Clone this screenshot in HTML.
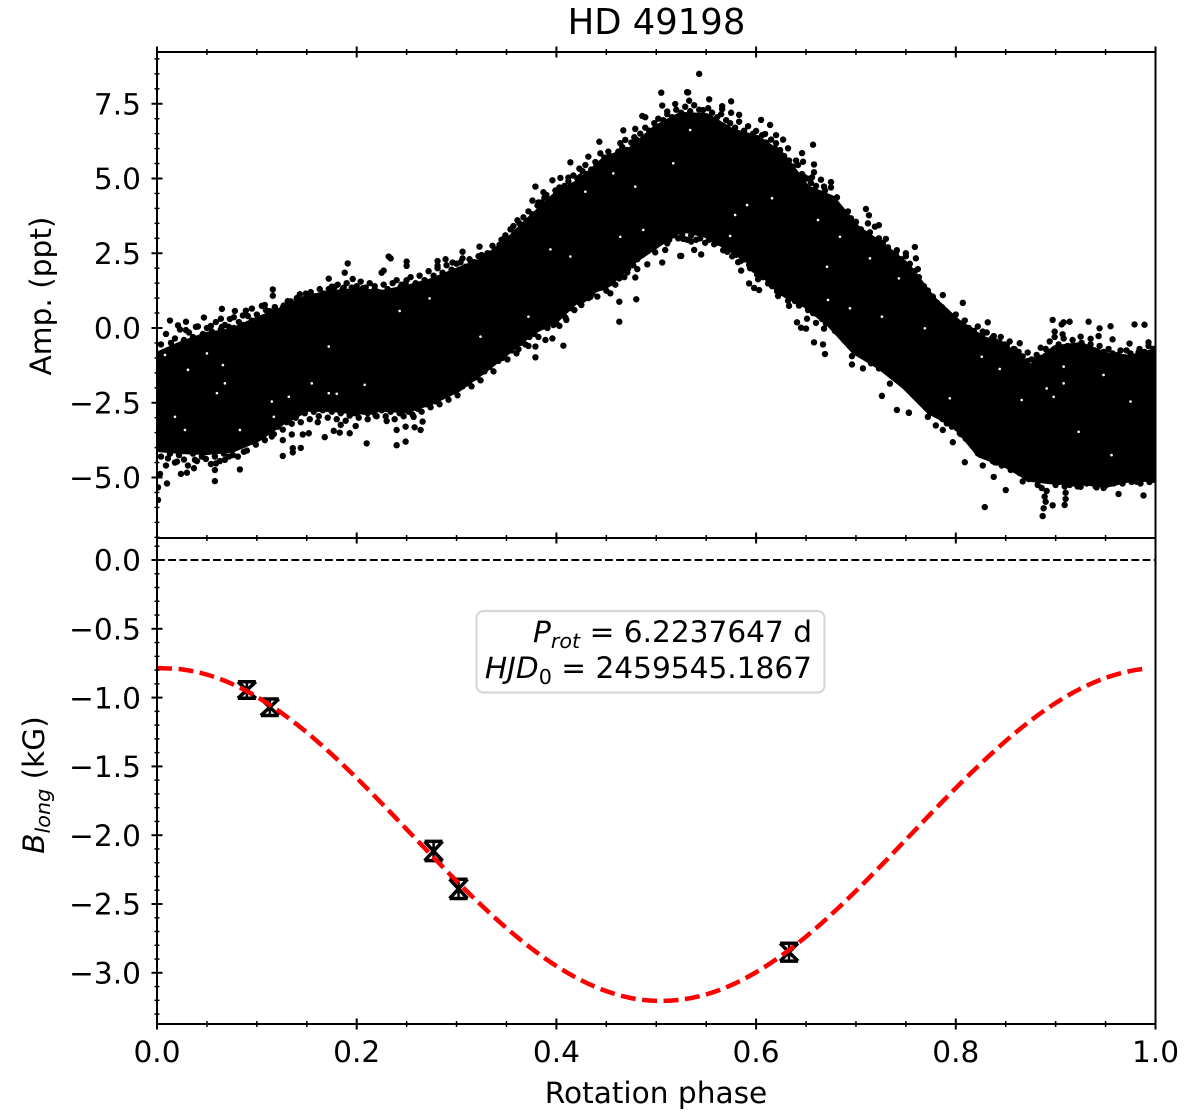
<!DOCTYPE html>
<html lang="en">
<head>
<meta charset="utf-8">
<title>HD 49198</title>
<style>
html,body{margin:0;padding:0;background:#fff}
svg{display:block}
text{font-family:"DejaVu Sans","Liberation Sans",sans-serif;fill:#000}
</style>
</head>
<body>
<svg id="chart" xmlns="http://www.w3.org/2000/svg" width="1200" height="1118" viewBox="0 0 1200 1118">
  <rect width="1200" height="1118" fill="#fff"/>
  <text x="656.5" y="34" font-size="35.4" text-anchor="middle">HD 49198</text>
  <g id="top-panel"></g>
  <g id="bottom-panel"></g>
  <g id="axes"></g>
  <g>
    <rect x="476.5" y="611" width="348" height="81.5" rx="7" ry="7" fill="#fff" stroke="#d8d8d8" stroke-width="2.2"/>
    <text x="812" y="642" font-size="29.6" text-anchor="end"><tspan font-style="italic">P</tspan><tspan font-style="italic" font-size="20.7" dy="6">rot</tspan><tspan dy="-6"> = 6.2237647 d</tspan></text>
    <text x="812" y="678" font-size="29.6" text-anchor="end"><tspan font-style="italic">HJD</tspan><tspan font-size="20.7" dy="6">0</tspan><tspan dy="-6"> = 2459545.1867</tspan></text>
  </g>
  <text transform="translate(51,296) rotate(-90)" font-size="29.6" text-anchor="middle">Amp. (ppt)</text>
  <text transform="translate(44,785) rotate(-90)" font-size="29.6" text-anchor="middle"><tspan font-style="italic">B</tspan><tspan font-style="italic" font-size="20.7" dy="6">long</tspan><tspan dy="-6"> (kG)</tspan></text>
  <text x="656" y="1103" font-size="29.6" text-anchor="middle">Rotation phase</text>
</svg>
<script>
// Envelope of the saturated part of the light-curve cloud
const bandPhase = [0,.025,.05,.075,.1,.125,.15,.175,.2,.225,.25,.275,.3,.325,.35,.375,.4,.425,.45,.475,.5,.525,.55,.575,.6,.625,.65,.675,.7,.725,.75,.775,.8,.825,.85,.875,.9,.925,.95,.975,1];
const bandUpper = [-.97,-.6,-.3,-.17,.2,.53,.94,1.1,1.17,1.1,1.27,1.5,1.84,2.17,2.78,3.6,4.38,4.85,5.6,5.89,6.62,7.06,7.02,6.52,6.29,5.72,4.62,4.28,3.28,2.71,2.04,.94,.17,-.4,-.74,-1.4,-.74,-.64,-.97,-1.07,-.84];
const bandLower = [-3.98,-4.05,-4.08,-4,-3.65,-3.08,-2.64,-2.64,-2.74,-2.64,-2.68,-2.4,-2,-1.4,-.74,-.07,.37,1.17,1.5,2.27,2.84,3.38,3.18,2.71,2.17,1.27,.84,.17,-.74,-1.24,-1.9,-2.74,-3.18,-4.18,-4.5,-4.98,-5.08,-5.08,-5.18,-4.98,-4.98];
// Individually visible light-curve points around the cloud edges
const pointPhase = [.013,.021,.029,.029,.039,.047,.054,.065,.064,.065,.072,.078,.077,.089,.086,.095,.105,.108,.116,.116,.113,.119,.126,.134,.143,.147,.172,.175,.188,.191,.196,.178,.187,.198,.206,.218,.225,.227,.232,.234,.25,.25,.249,.244,.234,.225,.263,
.01,.003,.024,.03,.037,.058,.058,.059,.083,.068,.049,.038,.02,.011,.076,.087,.126,.136,.144,.136,.115,.126,.135,.146,.152,.168,.177,.183,.193,.21,.199,.184,.24,.249,.24,.249,.258,.264,.266,.257,.23,.219,.211,.193,.161,.001,.001,
.505,.531,.506,.519,.511,.486,.489,.467,.479,.478,.443,.464,.469,.479,.414,.432,.429,.423,.444,.452,.404,.412,.396,.379,.387,.388,.376,.382,.406,.424,.361,.357,.348,.323,.325,.337,.306,.289,.281,.281,.296,.314,.32,.306,.343,
.524,.506,.511,.528,.491,.479,.481,.471,.48,.463,.463,.454,.434,.425,.415,.41,.403,.397,.407,.396,.389,.379,.379,.372,.362,.499,.509,.463,.444,.424,
.532,.553,.575,.566,.566,.547,.575,.583,.533,.605,.614,.6,.609,.62,.627,.62,.632,.657,.646,.658,.647,.64,.658,.656,.648,.665,.675,.675,.668,.658,.681,.692,.71,.713,.723,.719,.712,.695,.73,.759,.76,.75,.762,.74,.543,.531,
.525,.545,.538,.535,.527,.582,.585,.593,.603,.601,.602,.593,.598,.603,.612,.622,.621,.632,.633,.641,.651,.645,.65,.66,.668,.658,.667,.669,.696,.707,.696,.726,.741,.753,.734,.743,.748,.753,.761,.715,.723,
.807,.832,.787,.897,.914,.908,.933,.944,.955,.979,.989,.906,.899,.907,.925,.935,.943,.957,.974,.993,.965,.885,.872,.864,.859,.851,.844,.838,.827,.815,.881,.983,
.753,.749,.753,.769,.772,.78,.787,.791,.797,.804,.814,.809,.822,.827,.829,.838,.839,.841,.847,.85,.867,.857,.878,.887,.888,.897,.89,.889,.909,.91,.91,.914,.925,.941,.948,.963,.988,.981,.997,.987];
const pointAmp = [.25,.09,.21,-.07,.04,.35,.07,.64,.31,.04,.04,.57,.36,.58,.42,.65,.74,.77,1.29,1.08,.56,.6,.68,.89,1.13,.82,1.65,1.38,1.85,2.16,1.64,1.38,1.35,1.25,1.33,1.3,1.85,1.92,2.39,2.33,2.22,2.08,1.49,1.38,1.22,1.18,1.33,
-5.2,-4.88,-4.88,-4.84,-4.69,-5.12,-4.75,-4.53,-4.73,-4.41,-4.38,-4.41,-4.47,-4.36,-4.25,-4.14,-4.28,-4.16,-4.01,-4.02,-3.63,-3.75,-3.56,-3.56,-3.52,-3.65,-3.44,-3.5,-3.52,-3.86,-3.28,-3.24,-3.92,-3.8,-3.41,-3.3,-3.32,-3.41,-3.13,-2.97,-3.11,-2.93,-2.85,-2.93,-3.15,-5.33,-5.75,
7.87,7.88,7.44,7.49,7.24,7.09,7.05,6.61,6.66,6.38,6.23,6.18,6.29,6.01,5.54,5.73,5.45,5.33,5.84,5.9,5.02,5.03,4.94,4.73,4.54,4.36,4.26,4.2,4.67,5.06,3.6,3.41,3.01,2.72,2.44,2.5,2.55,2.3,2.24,2.08,2.19,2.24,2.16,2.33,2.78,
2.41,2.19,2.83,2.98,2.13,1.69,1.97,1.86,.96,.88,.21,1.16,1.04,.77,.66,.27,.07,.1,-.59,-.35,-.4,-.98,-.62,-.6,-.71,2.53,2.61,1.66,1.61,1.1,
7.88,7.65,7.58,7.42,7.32,7.29,7.2,7.13,7.6,6.96,6.79,6.59,6.49,6.45,6.3,6.18,6.01,6.13,5.85,5.47,5.56,5.6,5.21,5.04,5.06,4.96,4.88,4.7,4.73,4.45,4.37,3.9,3.98,3.77,3.44,3.39,3.5,3.67,2.98,2.71,2.33,2.5,1.97,2.5,8.5,7.89,
2.41,2.46,2.61,2.89,2.98,2.2,1.92,2.11,2.13,1.79,1.63,1.49,1.34,1.27,1.49,1.07,1.23,.91,.74,.19,.31,.01,-.02,.17,-.02,-.48,-.55,-.87,-1.22,-1.35,-.94,-2.27,-2.74,-2.83,-1.86,-1.66,-1.72,-2.03,-1.83,-1.18,-1.35,
.84,.19,1.1,.27,.21,.19,.21,-.01,.06,.12,.11,.12,-.12,-.21,-.29,-.36,-.27,-.38,-.52,-.48,-.75,-.66,-.82,-.51,-.71,-.59,-.49,-.27,-.12,-.07,-1.07,-.81,
-2.84,-1.72,-2.02,-2.41,-2.97,-3.26,-3.41,-3.19,-3.82,-3.52,-3.37,-4.49,-4.19,-4.6,-5.99,-4.98,-4.49,-4.17,-4.58,-5.42,-5.13,-4.47,-4.92,-6.29,-6.03,-5.93,-5.81,-5.64,-5.92,-5.72,-5.51,-5.25,-5.31,-5.33,-5.35,-5.55,-5.6,-5.14,-5.08,-5.03];
// Points packed along the upper edge of the cloud
const upperEdgePhase = [.004,.009,.014,.018,.023,.027,.032,.036,.041,.046,.05,.055,.059,.064,.068,.073,.077,.082,.086,.091,.095,.1,.104,.109,.113,.118,.122,.127,.131,.136,.14,.145,.149,.154,.158,.163,.167,.172,.177,.181,.186,.19,.195,.2,.204,.209,.213,.218,.222,.227,.231,.236,.24,.245,.25,.254,.259,.263,.268,.272,.277,.281,.286,.29,.295,.3,.304,.309,.313,.318,.322,.327,.331,.336,.34,.345,.349,.354,.358,.363,.367,.372,.376,.381,.385,.39,.394,.399,.403,.408,.412,.417,.421,.426,.43,.435,.439,.444,.448,.453,.457,.462,.466,.471,.475,.48,.484,.489,.493,.498,.502,.507,.511,.516,.52,.525,.529,.534,.538,.543,.547,.552,.556,.561,.565,.57,.574,.579,.583,.588,.592,.597,.601,.606,.61,.615,.619,.624,.628,.633,.637,.642,.646,.651,.655,.66,.664,.669,.673,.678,.682,.687,.691,.696,.7,.705,.709,.714,.718,.723,.727,.732,.736,.741,.745,.75,.754,.759,.763,.768,.772,.777,.781,.786,.79,.795,.8,.804,.809,.813,.818,.822,.827,.831,.836,.84,.845,.849,.854,.858,.863,.867,.872,.876,.881,.885,.89,.894,.899,.903,.908,.912,.917,.921,.926,.93,.935,.939,.944,.948,.953,.957,.962,.966,.971,.975,.98,.984,.989,.993,.998];
const upperEdgeAmp = [-.55,-.2,-.5,-.35,-.05,-.4,-.15,-.3,.05,-.2,0,-.12,.2,-.05,.1,.3,0,.2,.1,.4,.25,.45,.3,.6,.4,.7,.55,.75,.9,.7,1,.85,1.15,1.2,1.05,1.3,1.15,1.3,1.25,1.45,1.3,1.5,1.35,1.4,1.55,1.35,1.5,1.4,1.2,1.45,1.3,1.5,1.6,1.45,1.6,1.7,1.5,1.75,1.6,1.9,1.75,2,1.85,2.1,1.95,2.15,2.2,2.05,2.3,2.2,2.4,2.35,2.5,2.75,2.6,2.95,3.1,3.3,3.2,3.5,3.7,3.9,3.8,4.1,4.2,4.45,4.3,4.6,4.7,4.75,4.9,5.1,5,5.25,5.15,5.3,5.55,5.5,5.7,5.75,5.65,5.9,6.05,5.95,6.2,6.3,6.5,6.7,6.6,6.85,7,6.95,7.15,7.05,7.3,7.2,7.4,7.25,7.45,7.3,7.1,7.35,7.2,7.05,7.15,6.95,6.85,6.7,6.9,6.6,6.75,6.5,6.35,6.45,6.2,6.3,6,5.95,5.75,5.6,5.4,5.45,5.15,5,4.85,4.75,4.5,4.6,4.35,4.2,4.05,3.85,3.6,3.45,3.55,3.3,3.1,3.2,2.95,3,2.85,2.7,2.5,2.6,2.3,2.4,2.15,1.9,1.7,1.4,1.25,1.05,.85,.7,.55,.4,.45,.15,.25,0,-.1,.05,-.2,-.15,-.35,-.45,-.3,-.55,-.45,-.7,-.8,-.95,-1.1,-1.05,-.9,-1,-.7,-.45,-.3,-.55,-.35,-.6,-.4,-.7,-.5,-.65,-.55,-.75,-.6,-.8,-.7,-.85,-.9,-1,-.75,-.85,-.95,-.7,-.8,-.6,-.7];
// Points packed along the lower edge of the cloud
const lowerEdgePhase = [.004,.009,.013,.018,.022,.027,.031,.036,.04,.045,.049,.054,.058,.063,.067,.072,.076,.081,.085,.09,.094,.099,.103,.108,.112,.117,.121,.126,.13,.135,.139,.144,.148,.153,.157,.162,.166,.171,.175,.18,.184,.189,.193,.198,.202,.207,.211,.216,.22,.225,.229,.234,.238,.243,.247,.252,.256,.261,.265,.27,.274,.279,.283,.288,.292,.297,.301,.306,.31,.315,.319,.324,.328,.333,.337,.342,.346,.351,.355,.36,.364,.369,.373,.378,.382,.387,.391,.396,.4,.405,.409,.414,.418,.423,.427,.432,.436,.441,.445,.45,.454,.459,.463,.468,.472,.477,.481,.486,.49,.495,.499,.504,.508,.513,.517,.522,.526,.531,.535,.54,.544,.549,.553,.558,.562,.567,.571,.576,.58,.585,.589,.594,.598,.603,.607,.612,.616,.621,.625,.63,.634,.639,.643,.648,.652,.657,.661,.666,.67,.675,.679,.684,.688,.693,.697,.702,.706,.711,.715,.72,.724,.729,.733,.738,.742,.747,.751,.756,.76,.765,.769,.774,.778,.783,.787,.792,.796,.801,.805,.81,.814,.819,.823,.828,.832,.837,.841,.846,.85,.855,.859,.864,.868,.873,.877,.882,.886,.891,.895,.9,.904,.909,.913,.918,.922,.927,.931,.936,.94,.945,.949,.954,.958,.963,.967,.972,.976,.981,.985,.99,.994,.999];
const lowerEdgeAmp = [-4.3,-4.6,-4.2,-4.5,-4.25,-4.4,-4.6,-4.2,-4.45,-4.3,-4.15,-4.55,-4.3,-4.45,-4.2,-4.3,-4.05,-4.3,-3.9,-4.1,-3.8,-3.9,-3.65,-3.75,-3.45,-3.55,-3.3,-3.4,-3.15,-3.2,-3,-3.15,-2.85,-3.05,-2.8,-2.95,-2.75,-3,-2.8,-3.05,-2.85,-3.1,-2.9,-2.85,-3,-2.8,-3.05,-2.8,-2.95,-2.75,-2.95,-2.8,-3.05,-2.85,-2.95,-2.8,-2.9,-2.7,-2.8,-2.55,-2.65,-2.45,-2.55,-2.25,-2.4,-2.1,-2.25,-1.95,-1.85,-1.95,-1.65,-1.75,-1.45,-1.3,-1.45,-1.1,-1,-1.05,-.75,-.85,-.5,-.55,-.3,-.2,-.3,.05,0,.25,.15,.45,.35,.7,.6,.85,.95,1,1.15,1.05,1.35,1.25,1.5,1.45,1.8,1.7,2,2.1,2.3,2.45,2.55,2.7,2.75,2.9,3,2.95,3.1,3,3.15,2.95,3.1,2.95,3,2.85,2.95,2.8,2.85,2.6,2.55,2.4,2.45,2.25,2.3,2,1.95,1.8,1.7,1.65,1.4,1.45,1.2,1.1,1.15,.9,.75,.8,.6,.5,.55,.3,.15,.2,-.1,-.2,-.4,-.5,-.65,-.8,-.85,-.9,-1.05,-1.15,-1.1,-1.4,-1.35,-1.6,-1.55,-1.85,-1.95,-2.1,-2.2,-2.4,-2.55,-2.7,-2.8,-2.85,-3.05,-3,-3.3,-3.35,-3.55,-3.7,-3.75,-4,-4.1,-4.25,-4.2,-4.45,-4.5,-4.6,-4.5,-4.75,-4.65,-4.85,-4.9,-5.05,-5,-5.25,-5.35,-5.45,-5.1,-5.25,-5.1,-5.3,-5.1,-5.2,-5.3,-5.05,-5.2,-5.1,-5.3,-5.15,-5.3,-5.05,-5.2,-5.05,-5.2,-5,-5.15,-4.95,-5.2,-5,-5.15,-4.95];
// White gaps visible inside the saturated cloud
const gapPhase = [.05,.066,.031,.068,.06,.115,.132,.155,.172,.172,.18,.208,.243,.117,.083,.018,.008,.028,.429,.414,.394,.457,.464,.487,.479,.273,.372,.324,.517,.534,.574,.591,.579,.616,.671,.672,.694,.726,.662,.684,.714,.743,.769,.794,.866,.844,.891,.908,.923,.948,.956,.975,.826,.908,.898];
const gapAmp = [-.85,-1.24,-1.4,-1.85,-2.18,-2.46,-2.3,-1.85,-.62,-2.18,-2.2,-1.9,.57,-2.97,-3.41,-2.97,-.9,-3.41,4.56,2.39,2.63,5.17,3.05,3.28,4.73,.99,.38,-.29,5.51,6.62,3.08,4.11,3.78,4.34,2.05,.94,.66,.38,3.61,3.05,2.33,1.66,-.01,-2.35,-2.41,-1.37,-2.02,-1.85,-3.47,-1.57,-4.25,-2.46,-.96,-1.29,-2.3];
// Longitudinal field model
const modelPhase = [0,.025,.05,.075,.1,.125,.15,.175,.2,.225,.25,.275,.3,.325,.35,.375,.4,.425,.45,.475,.5,.525,.55,.575,.6,.625,.65,.675,.7,.725,.75,.775,.8,.825,.85,.875,.9,.925,.95,.975,.99];
const modelField = [-.786,-.795,-.833,-.9,-.994,-1.113,-1.253,-1.412,-1.585,-1.768,-1.957,-2.147,-2.333,-2.51,-2.675,-2.823,-2.951,-3.055,-3.133,-3.184,-3.204,-3.195,-3.157,-3.09,-2.996,-2.877,-2.737,-2.578,-2.405,-2.222,-2.033,-1.843,-1.657,-1.48,-1.315,-1.167,-1.039,-.935,-.857,-.806,-.79];
// Blong measurements
const obsPhase = [.09,.113,.277,.302,.633];
const obsField = [-.945,-1.07,-2.115,-2.39,-2.85];
const obsError = [.06,.06,.07,.07,.065];
// Ticks
const xTickLabels = ["0.0","0.2","0.4","0.6","0.8","1.0"];
const topYTickLabels = ["7.5","5.0","2.5","0.0","\u22122.5","\u22125.0"];
const bottomYTickLabels = ["0.0","\u22120.5","\u22121.0","\u22121.5","\u22122.0","\u22122.5","\u22123.0"];

const NS = "http://www.w3.org/2000/svg";
const LEFT = 157, RIGHT = 1155.5, TOP = 52, MID = 538, BOTTOM = 1024;
const sx = p => LEFT + p * 998.5;
const syTop = a => 328 - a * 29.9;
const syBottom = b => 560 - b * 137.6;
const parseLabel = s => parseFloat(s.replace("\u2212", "-"));
const topPanel = document.getElementById("top-panel");
const bottomPanel = document.getElementById("bottom-panel");
const axes = document.getElementById("axes");
function make(tag, attrs, parent) {
  const el = document.createElementNS(NS, tag);
  for (const k in attrs) el.setAttribute(k, attrs[k]);
  parent.appendChild(el);
  return el;
}

// Light-curve cloud
const clip = make("clipPath", {id: "top-clip"}, topPanel);
make("rect", {x: LEFT, y: TOP, width: RIGHT - LEFT, height: MID - TOP}, clip);
const cloud = make("g", {"clip-path": "url(#top-clip)"}, topPanel);


const corePts = [];
bandPhase.forEach((p, i) => corePts.push(sx(p) + "," + syTop(bandUpper[i])));
for (let i = bandPhase.length - 1; i >= 0; i--) corePts.push(sx(bandPhase[i]) + "," + syTop(bandLower[i]));
const core = make("polygon", {points: corePts.join(" "), fill: "#000", stroke: "#000", "stroke-width": 10, "stroke-linejoin": "round"}, cloud);


function drawPoints(phases, amps) {
  phases.forEach((p, i) => {
    const c = make("circle", {cx: sx(p), cy: syTop(amps[i]), r: 3.2, fill: "#000"}, cloud);
    
    
  });
}
drawPoints(pointPhase, pointAmp);
drawPoints(upperEdgePhase, upperEdgeAmp);
drawPoints(lowerEdgePhase, lowerEdgeAmp);
gapPhase.forEach((p, i) => {
  const g = make("circle", {cx: sx(p), cy: syTop(gapAmp[i]), r: 1.3, fill: "#fff"}, cloud);
  
  
});

// Zero reference line
const zero = make("line", {x1: LEFT, x2: RIGHT, y1: syBottom(0), y2: syBottom(0), stroke: "#000", "stroke-width": 2, "stroke-dasharray": "7.8 3.4"}, bottomPanel);



// Error bars
obsPhase.forEach((p, i) => {
  const g = make("g", {stroke: "#000", fill: "none"}, bottomPanel);
  
  
  const x = sx(p), y0 = syBottom(obsField[i] + obsError[i]), y1 = syBottom(obsField[i] - obsError[i]), w = 9;
  make("line", {x1: x, x2: x, y1: y0, y2: y1, "stroke-width": 2.5}, g);
  make("line", {x1: x - w, x2: x + w, y1: y0, y2: y0, "stroke-width": 3.5}, g);
  make("line", {x1: x - w, x2: x + w, y1: y1, y2: y1, "stroke-width": 3.5}, g);
  make("line", {x1: x - w, x2: x + w, y1: y0, y2: y1, "stroke-width": 3.5}, g);
  make("line", {x1: x + w, x2: x - w, y1: y0, y2: y1, "stroke-width": 3.5}, g);
});

// Model curve, smoothed through the tabulated values
const mx = modelPhase.map(sx), my = modelField.map(syBottom);
let modelPath = "M" + mx[0] + "," + my[0];
for (let i = 0; i < mx.length - 1; i++) {
  const a = Math.max(i - 1, 0), d = Math.min(i + 2, mx.length - 1), b = i + 1;
  modelPath += " C" + (mx[i] + (mx[b] - mx[a]) / 6) + "," + (my[i] + (my[b] - my[a]) / 6) + " " + (mx[b] - (mx[d] - mx[i]) / 6) + "," + (my[b] - (my[d] - my[i]) / 6) + " " + mx[b] + "," + my[b];
}
const model = make("path", {d: modelPath, fill: "none", stroke: "#ff0000", "stroke-width": 4.5, "stroke-dasharray": "15 6.5"}, bottomPanel);



// Frame
function rule(x1, y1, x2, y2, w, name) {
  const l = make("line", {x1, y1, x2, y2, stroke: "#000", "stroke-width": w}, axes);
  
  
}
rule(LEFT, TOP, RIGHT, TOP, 2, 'top-spine');
rule(LEFT, MID, RIGHT, MID, 2, 'middle-spine');
rule(LEFT, BOTTOM, RIGHT, BOTTOM, 2, 'bottom-spine');
rule(LEFT, TOP, LEFT, BOTTOM, 2, 'left-spine');
rule(RIGHT, TOP, RIGHT, BOTTOM, 2, 'right-spine');

// X ticks on all three horizontal rules
for (let n = 0; n <= 20; n++) {
  const major = n % 4 === 0, h = major ? 5.5 : 3, w = major ? 2 : 1.5;
  [TOP, MID, BOTTOM].forEach(y => rule(sx(n * .05), y - h, sx(n * .05), y + h, w, major ? 'x-major-tick' : 'x-minor-tick'));
}
xTickLabels.forEach(s => {
  const t = make("text", {x: sx(parseLabel(s)), y: 1062, "font-size": 29.6, "text-anchor": "middle"}, axes);
  t.textContent = s;
  
  
});

// Y ticks, top panel
for (let n = -14; n <= 18; n++) {
  const major = n % 5 === 0 && n >= -10 && n <= 15, h = major ? 5.5 : 2.5, w = major ? 2 : 1.5, y = syTop(n * .5);
  rule(LEFT - h, y, LEFT + h, y, w, major ? 'top-y-major-tick' : 'top-y-minor-tick');
}
topYTickLabels.forEach(s => {
  const t = make("text", {x: 141, y: syTop(parseLabel(s)) + 10.7, "font-size": 29.6, "text-anchor": "end"}, axes);
  t.textContent = s;
  
  
});

// Y ticks, bottom panel
for (let n = -33; n <= 1; n++) {
  const major = n % 5 === 0, h = major ? 5.5 : 2.5, w = major ? 2 : 1.5, y = syBottom(n * .1);
  rule(LEFT - h, y, LEFT + h, y, w, major ? 'bottom-y-major-tick' : 'bottom-y-minor-tick');
}
bottomYTickLabels.forEach(s => {
  const t = make("text", {x: 141, y: syBottom(parseLabel(s)) + 10.7, "font-size": 29.6, "text-anchor": "end"}, axes);
  t.textContent = s;
  
  
});
</script>
</body>
</html>
